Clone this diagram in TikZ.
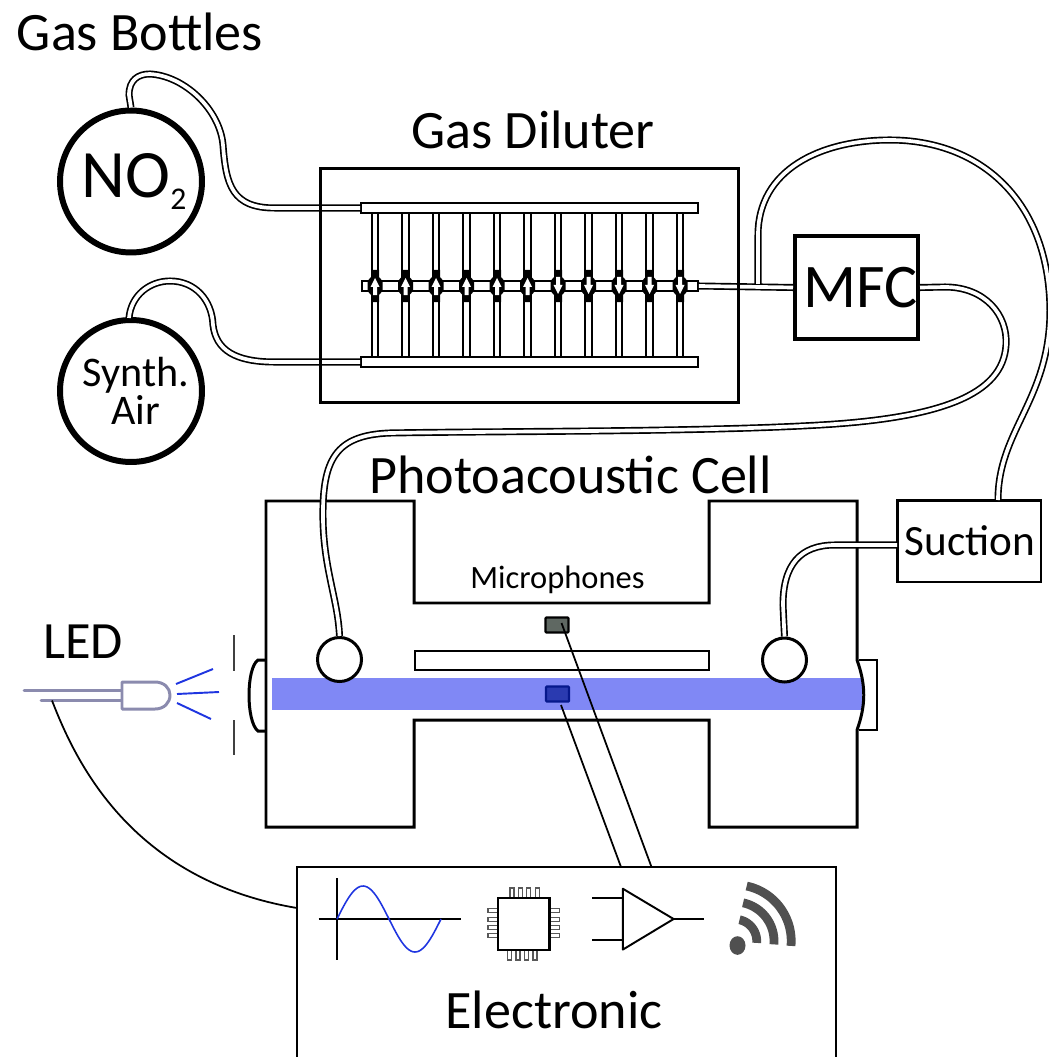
\documentclass[tikz,border=0pt]{standalone}
\usepackage{fontspec}
\setmainfont{Carlito}
\usetikzlibrary{calc}
\definecolor{ledgray}{HTML}{8B8BAE}
\definecolor{beamblue}{HTML}{8088F5}
\definecolor{rayblue}{HTML}{1F35E0}
\definecolor{micgray}{HTML}{5F6862}
\definecolor{micblue}{HTML}{2A3AB0}
\definecolor{micedge}{HTML}{06188C}
\definecolor{wifigray}{HTML}{505050}
\tikzset{
  tube/.style={line width=0.95pt,double=white,double distance=2.1pt},
  vtube/.style={line width=1.1pt,double=white,double distance=2.6pt},
  bottle/.style={circle,draw,line width=3.4pt,inner sep=0pt,minimum size=2.84cm},
  inlet/.style={circle,draw,fill=white,line width=1.7pt,inner sep=0pt,minimum size=0.88cm},
  bar/.style={rectangle,draw,fill=white,line width=1pt,inner sep=0pt},
  box/.style={rectangle,draw,line width=1.7pt,inner sep=0pt},
  wall/.style={line width=1.7pt,line join=miter},
  wire/.style={line width=1pt},
  ledline/.style={draw=ledgray,line width=1.7pt,line cap=round},
  ray/.style={draw=rayblue,line width=1.1pt},
  pin/.style={draw=black!65,line width=0.6pt,fill=white},
  wave/.style={draw=wifigray,line width=5pt},
  big/.style={font=\fontsize{30.8}{33}\selectfont},
}
\begin{document}
\begin{tikzpicture}[x=0.02cm,y=-0.02cm]
  \useasboundingbox (0,0) rectangle (1048,1057);
  \node[big] (bottlestitle) at (140,32) {Gas Bottles};
  \node[big] (dilutertitle) at (533,130) {Gas Diluter};
  \node[big] (celltitle) at (570.5,475) {Photoacoustic Cell};
  \node[font=\fontsize{29.8}{32}\selectfont] (ledtitle) at (83,642) {LED};
  \node[font=\fontsize{18.5}{20}\selectfont] (mictitle) at (557.5,580) {Microphones};
  \node[big] (electitle) at (554,1010) {Electronic};

  \node[bottle,font=\fontsize{38.6}{42}\selectfont] (no2) at (131,181.5) {\hspace*{3.4pt}NO\raisebox{-6.8pt}{\fontsize{18}{20}\selectfont 2}};
  \node[bottle,align=center,font=\fontsize{24}{21.6}\selectfont] (synth) at (131,391) {\hspace*{5.6pt}Synth.\\\hspace*{5.6pt}Air};

  \foreach \x in {375,405.5,436,466.5,497,527.5,558,588.5,619,649.5,680}
    \draw[vtube] (\x,210) -- (\x,360);

  \node[bar,minimum width=6.74cm,minimum height=0.2cm] (topbar) at (529.5,208) {};
  \node[bar,minimum width=6.72cm,minimum height=0.2cm] (midbar) at (530,286) {};
  \node[bar,minimum width=6.74cm,minimum height=0.2cm] (lowbar) at (529.5,362) {};

  \foreach \x/\d in {375/1,405.5/1,436/1,466.5/1,497/1,527.5/1,558/-1,588.5/-1,619/-1,649.5/-1,680/-1} {
    \fill (\x-4,286-16) -- (\x+4,286-16) -- (\x+4,286-9) -- (\x+7.5,286-5) -- (\x+7.5,286+5)
      -- (\x+4,286+9) -- (\x+4,286+16) -- (\x-4,286+16) -- (\x-4,286+9) -- (\x-7.5,286+5)
      -- (\x-7.5,286-5) -- (\x-4,286-9) -- cycle;
    \fill[white] (\x,286-8*\d) -- (\x+4.5,286+1*\d) -- (\x+2,286+1*\d) -- (\x+2,286+9*\d)
      -- (\x-2,286+9*\d) -- (\x-2,286+1*\d) -- (\x-4.5,286+1*\d) -- cycle;
  }

  \node[box,line width=2.3pt,minimum width=2.46cm,minimum height=2.06cm,font=\fontsize{35.3}{38}\selectfont] (mfc) at (856.5,287.5) {\hspace{5pt}MFC};
  \node[box,minimum width=2.88cm,minimum height=1.64cm,font=\fontsize{24.6}{26}\selectfont] (suction) at (969,541) {\hspace*{1.1pt}Suction};

  \coordinate (branch) at (758,284);
  \coordinate (suctionin) at (897,545);
  \coordinate (suctionout) at (998,500);
  \coordinate (synthout) at (129,318);
  \coordinate (ledwire) at (52,700.5);
  \coordinate (elecwire) at (297,908);

  \draw[tube] (no2.north) -- (129,95) .. controls (129,80) and (138,74) .. (150,74)
    .. controls (185,76) and (220,110) .. (223,145) .. controls (226,185) and (232,208) .. (275,208) -- (topbar.west);
  \draw[tube] (synthout) .. controls (131,295) and (150,281) .. (170,281)
    .. controls (195,281) and (212,300) .. (213,325) .. controls (216,350) and (235,362) .. (275,362) -- (lowbar.west);
  \draw[tube] (midbar.east) -- (mfc.west);
  \draw[tube] (branch) -- (758,235) .. controls (758,170) and (820,140) .. (890,140)
    .. controls (980,140) and (1049,200) .. (1050,310) .. controls (1050,400) and (998,430) .. (suctionout);

  \node[box,minimum width=8.38cm,minimum height=4.7cm] (diluter) at (529.5,285.5) {};

  \fill[beamblue] (272,678) rectangle (862,710);
  \draw[wall] (266,501) -- (414,501) -- (414,603) -- (709,603) -- (709,501) -- (857,501) -- (857,660)
    .. controls (866,685) and (866,705) .. (857,730) -- (857,827) -- (709,827) -- (709,720)
    -- (414,720) -- (414,827) -- (266,827) -- cycle;
  \draw[line width=1.5pt] (859,660) -- (877,660) -- (877,730) -- (859,730);
  \draw[wall] (266,660) -- (258,660) .. controls (246,668) and (246,722) .. (258,731) -- (266,731);
  \node[bar,line width=1.4pt,minimum width=5.88cm,minimum height=0.38cm] (plate) at (562,660.5) {};

  \node[inlet] (inletl) at (339.5,659.5) {};
  \node[inlet] (inletr) at (784.5,660) {};
  \draw[tube] (mfc.east) -- (945,287) .. controls (985,287) and (1008,315) .. (1006,345)
    .. controls (1003,395) and (940,418) .. (820,425) .. controls (700,432) and (500,431) .. (390,433)
    .. controls (335,435) and (322,460) .. (323,520) .. controls (324,570) and (338,600) .. (inletl.north);
  \draw[tube] (suctionin) -- (835,545) .. controls (800,545) and (783,565) .. (783,605) -- (inletr.north);

  \node[rectangle,draw,line width=1.3pt,fill=micgray,rounded corners=0.5pt,inner sep=0pt,minimum width=0.46cm,minimum height=0.3cm] (micup) at (557,625) {};
  \node[rectangle,draw=micedge,line width=1.3pt,fill=micblue,rounded corners=0.5pt,inner sep=0pt,minimum width=0.46cm,minimum height=0.3cm] (miclow) at (557.5,694) {};

  \node[box,line width=1.2pt,minimum width=10.78cm,minimum height=3.9cm] (elec) at (566.5,964.5) {};
  \coordinate (wireup) at (561.5,623);
  \coordinate (wirelow) at (561,705);
  \coordinate (elecup) at (651.5,867);
  \coordinate (eleclow) at (621,867);
  \draw[wire] (wireup) -- (elecup);
  \draw[wire] (wirelow) -- (eleclow);

  \draw[ledline] (24,690.5) -- (122,690.5);
  \draw[ledline] (41,700.5) -- (122,700.5);
  \draw[ledline,fill=white,line join=round] (122,682) -- (155,682) .. controls (164,682) and (170,688) .. (170,695)
    .. controls (170,703) and (164,709) .. (155,709) -- (122,709) -- cycle;
  \draw[ray] (176,684) -- (213,669);
  \draw[ray] (177,694) -- (219,692);
  \draw[ray] (177,703) -- (211,719);
  \draw[line width=1.1pt,black!75] (234,635) -- (234,671);
  \draw[line width=1.1pt,black!75] (234,720) -- (234,755);
  \draw[wire] (ledwire) .. controls (75,760) and (130,880) .. (elecwire);

  \draw[wire] (318.5,919) -- (460.5,919);
  \draw[wire] (337,878) -- (337,960);
  \draw[ray,line width=0.9pt] plot[domain=0:360,samples=60] ({337+\x/360*104},{919-33*sin(\x)});

  \foreach \x in {512,520.4,528.5,537.3}
    \draw[pin] (\x-2,888) rectangle (\x+2,898);
  \foreach \x in {509.6,518,526.5,535}
    \draw[pin] (\x-2,950) rectangle (\x+2,960);
  \foreach \y in {910.7,919.2,927.6,935.7} {
    \draw[pin] (488,\y-2) rectangle (498,\y+2);
    \draw[pin] (549.5,\y-2) rectangle (559.5,\y+2);
  }
  \draw[line width=1.3pt] (498,898) rectangle (549.5,950);

  \draw[wire,line width=1.1pt,line join=round] (622.8,888.7) -- (673.6,919) -- (622.8,949.6) -- cycle;
  \draw[wire,line width=1.1pt] (592.4,898) -- (622.8,898);
  \draw[wire,line width=1.1pt] (592.4,940) -- (622.8,940);
  \draw[wire,line width=1.1pt] (673.6,919) -- (704,919);

  \fill[wifigray] (737.5,945.5) ellipse (8 and 9.3);
  \foreach \r in {21.7,39,56.2}
    \draw[wave] plot[domain=78:-5,samples=30] ({735+\r*cos(\x)},{941-\r*sin(\x)});
\end{tikzpicture}
\end{document}
